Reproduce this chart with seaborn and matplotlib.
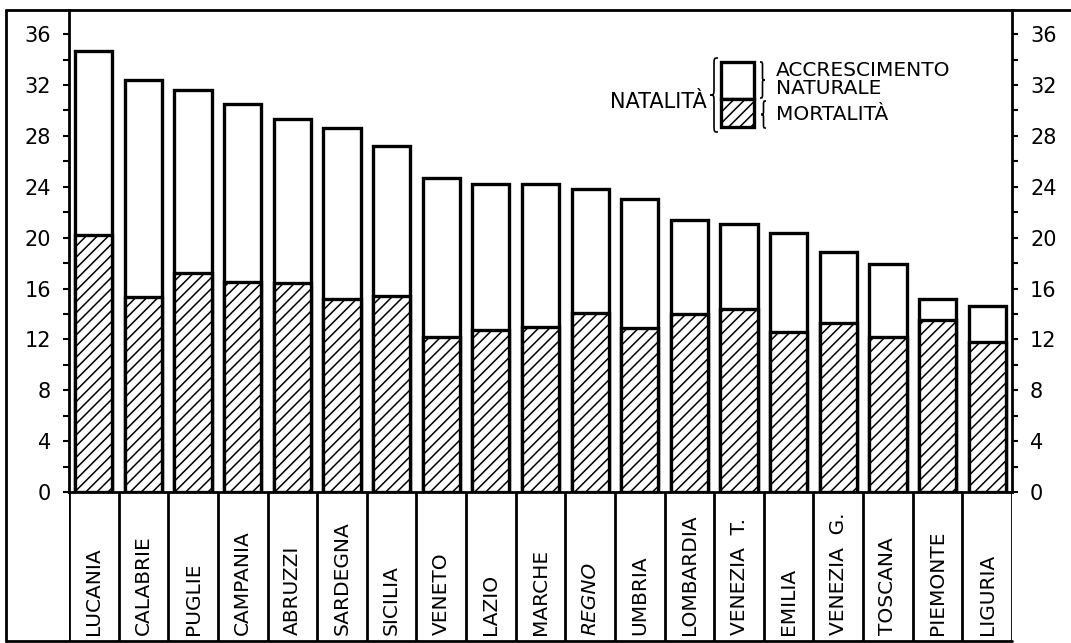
import matplotlib
matplotlib.use("Agg")
import matplotlib.pyplot as plt
import seaborn as sns
import pandas as pd
from matplotlib.path import Path
from matplotlib.patches import PathPatch, Rectangle
from matplotlib.lines import Line2D

# Dati: natalità e mortalità (per mille abitanti)
regioni = ['LUCANIA', 'CALABRIE', 'PUGLIE', 'CAMPANIA', 'ABRUZZI', 'SARDEGNA',
           'SICILIA', 'VENETO', 'LAZIO', 'MARCHE', 'REGNO', 'UMBRIA',
           'LOMBARDIA', 'VENEZIA  T.', 'EMILIA', 'VENEZIA  G.', 'TOSCANA',
           'PIEMONTE', 'LIGURIA']
natalita = [34.7, 32.4, 31.6, 30.5, 29.3, 28.6, 27.2, 24.7, 24.2, 24.2,
            23.8, 23.0, 21.4, 21.1, 20.4, 18.9, 17.9, 15.2, 14.6]
mortalita = [20.2, 15.3, 17.2, 16.5, 16.4, 15.2, 15.4, 12.2, 12.7, 13.0,
             14.1, 12.9, 14.0, 14.4, 12.6, 13.3, 12.2, 13.5, 11.8]
yticks = list(range(0, 37, 4))

df = pd.DataFrame({'regione': regioni, 'natalita': natalita, 'mortalita': mortalita})

sns.set_style('white')
plt.rcParams['font.family'] = ['DejaVu Sans']
plt.rcParams['text.color'] = 'black'
plt.rcParams['axes.labelcolor'] = 'black'
plt.rcParams['xtick.color'] = 'black'
plt.rcParams['ytick.color'] = 'black'
plt.rcParams['hatch.linewidth'] = 1.1
plt.rcParams['hatch.color'] = 'black'

W, H = 1071, 643
fig = plt.figure(figsize=(W / 100, H / 100), dpi=100)


def fx(px):
    return px / W


def fy(py):
    return 1 - py / H


# asse principale
ax = fig.add_axes([fx(69), fy(492), fx(1012) - fx(69), fy(10) - fy(492)])
sns.barplot(data=df, x='regione', y='natalita', color='white', edgecolor='black',
            linewidth=2.4, width=0.75, ax=ax, saturation=1)
n_tot = len(ax.patches)
sns.barplot(data=df, x='regione', y='mortalita', color='white', edgecolor='black',
            linewidth=2.4, width=0.75, ax=ax, saturation=1)
for p in ax.patches[n_tot:]:
    p.set_hatch('///')

ax.set_ylim(0, 37.9)
ax.set_xlim(-0.5, len(regioni) - 0.5)
ax.set_yticks(yticks)
ax.set_yticks(range(2, 37, 4), minor=True)
ax.set_xlabel('')
ax.set_ylabel('')
ax.tick_params(axis='x', bottom=False, labelbottom=False)
ax.tick_params(axis='y', which='both', direction='out', left=True, right=True,
               labelleft=True, labelright=True, width=1.5, color='black',
               labelcolor='black')
ax.tick_params(axis='y', which='major', length=4, pad=9, labelsize=15)
ax.tick_params(axis='y', which='minor', length=4)
for s in ['left', 'right', 'bottom']:
    ax.spines[s].set_visible(True)
    ax.spines[s].set_linewidth(2)
    ax.spines[s].set_color('black')
ax.spines['top'].set_visible(False)

# caselle con i nomi delle regioni
ax2 = fig.add_axes([fx(69), fy(641), fx(1012) - fx(69), fy(492) - fy(641)])
ax2.set_xlim(-0.5, len(regioni) - 0.5)
ax2.set_ylim(0, 1)
ax2.axis('off')
ax2.vlines([i - 0.5 for i in range(len(regioni) + 1)], 0, 1, color='black', lw=2)
for i, nome in enumerate(regioni):
    ax2.text(i, 0.04, nome, rotation=90, ha='center', va='bottom', fontsize=14.5,
             style='italic' if nome == 'REGNO' else 'normal')

# cornice
fig.add_artist(Line2D([fx(6), 1], [fy(10), fy(10)], color='black', lw=2))
fig.add_artist(Line2D([fx(6), fx(6)], [fy(10), fy(641)], color='black', lw=2))
fig.add_artist(Line2D([fx(6), fx(1012)], [fy(641), fy(641)], color='black', lw=2))


def graffa(x, y0, y1, w, verso=-1, lw=1.2):
    # graffa verticale in pixel; verso=-1 punta a sinistra, +1 a destra
    ym = (y0 + y1) / 2
    r = min(w, (y1 - y0) / 4)
    xm = x + verso * w / 2
    xt = x + verso * w
    verts = [(x, y0), (xm, y0), (xm, y0), (xm, y0 + r),
             (xm, ym - r),
             (xm, ym), (xm, ym), (xt, ym),
             (xm, ym), (xm, ym), (xm, ym + r),
             (xm, y1 - r),
             (xm, y1), (xm, y1), (x, y1)]
    codes = [Path.MOVETO, Path.CURVE4, Path.CURVE4, Path.CURVE4,
             Path.LINETO,
             Path.CURVE4, Path.CURVE4, Path.CURVE4,
             Path.CURVE4, Path.CURVE4, Path.CURVE4,
             Path.LINETO,
             Path.CURVE4, Path.CURVE4, Path.CURVE4]
    verts = [(fx(a), fy(b)) for a, b in verts]
    fig.add_artist(PathPatch(Path(verts, codes), fill=False, lw=lw,
                             edgecolor='black', transform=fig.transFigure))


# legenda
fig.add_artist(Rectangle((fx(721), fy(99)), fx(754) - fx(721), fy(62) - fy(99),
                         facecolor='white', edgecolor='black', lw=2.4,
                         transform=fig.transFigure))
fig.add_artist(Rectangle((fx(721), fy(127)), fx(754) - fx(721), fy(99) - fy(127),
                         facecolor='white', edgecolor='black', lw=2.4, hatch='///',
                         transform=fig.transFigure))
graffa(718, 58, 132, 8, verso=-1)
graffa(760, 62, 98, 5, verso=1)
graffa(766, 101, 128, 5, verso=-1)
fig.text(fx(707), fy(102), 'NATALITÀ', ha='right', va='center', fontsize=15)
fig.text(fx(776), fy(71), 'ACCRESCIMENTO', ha='left', va='center', fontsize=14.5)
fig.text(fx(776), fy(89), 'NATURALE', ha='left', va='center', fontsize=14.5)
fig.text(fx(776), fy(115), 'MORTALITÀ', ha='left', va='center', fontsize=14.5)

plt.savefig('out.png', dpi=100)
